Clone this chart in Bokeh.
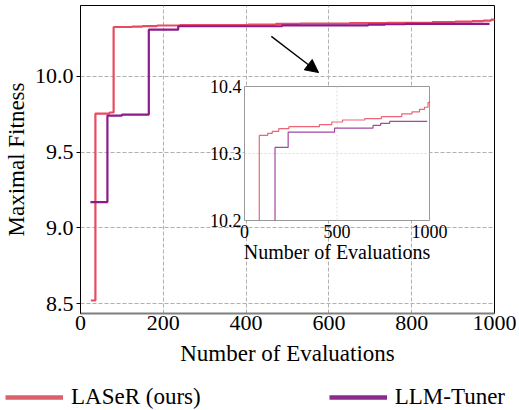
from bokeh.plotting import figure
from bokeh.layouts import column, row
from bokeh.models import (Range1d, LinearAxis, FixedTicker, PrintfTickFormatter,
                          Legend, LegendItem, Arrow, NormalHead)
from bokeh.embed import file_html
from bokeh.resources import INLINE

FONT = "Liberation Serif"

# ---- data ----
laser_x = [25, 36, 70, 80, 125, 150, 185, 240, 405, 472, 530, 650, 740, 850, 905, 946, 973, 992, 1000]
laser_y = [8.52, 9.755, 9.762, 10.327, 10.330, 10.333, 10.337, 10.340, 10.343, 10.347,
           10.350, 10.352, 10.355, 10.359, 10.362, 10.366, 10.369, 10.376, 10.378]
tuner_x = [24, 65, 100, 165, 236, 487, 695, 736, 785, 988]
tuner_y = [9.17, 9.742, 9.748, 10.309, 10.332, 10.338, 10.342, 10.345, 10.348, 10.348]

series_names = ["LASeR (ours)", "LLM-Tuner"]
x_ticks = [0, 200, 400, 600, 800, 1000]
y_ticks = [8.5, 9.0, 9.5, 10.0]
inset_x_ticks = [0, 500, 1000]
inset_y_ticks = [10.2, 10.3, 10.4]

RED = "#e84a5f"
PURPLE = "#8b1a8b"
LEG_RED = "#dc5f6c"
LEG_PURPLE = "#8a2a8c"

# ---- layout geometry (pixels) ----
FW, FH = 414, 308
INS_L, INS_R, INS_T, INS_B = 164, 349, 81, 215   # inset box inside frame (from frame top-left)
ix0, ix1 = inset_x_ticks[0], inset_x_ticks[-1]
iy0, iy1 = inset_y_ticks[0], inset_y_ticks[-1]
xpp = (ix1 - ix0) / (INS_R - INS_L)
ypp = (iy1 - iy0) / (INS_B - INS_T)
ix_range = Range1d(ix0 - INS_L * xpp, ix1 + (FW - INS_R) * xpp)
iy_range = Range1d(iy0 - (FH - INS_B) * ypp, iy1 + INS_T * ypp)

p = figure(frame_width=FW, frame_height=FH,
           x_range=Range1d(0, 1000), y_range=Range1d(8.434, 10.469),
           output_backend="svg", toolbar_location=None,
           min_border_left=79, min_border_right=26, min_border_top=5, min_border_bottom=66)
p.extra_x_ranges = {"ix": ix_range}
p.extra_y_ranges = {"iy": iy_range}

p.outline_line_color = "black"
p.outline_line_width = 1
p.background_fill_color = "white"

mx = p.below[0]
my = p.left[0]
mx.ticker = FixedTicker(ticks=x_ticks)
my.ticker = FixedTicker(ticks=y_ticks)
my.formatter = PrintfTickFormatter(format="%.1f")
for ax in (mx, my):
    ax.major_label_text_font = FONT
    ax.major_label_text_font_size = "22px"
    ax.major_label_text_color = "black"
    ax.axis_label_text_font = FONT
    ax.axis_label_text_font_size = "23px"
    ax.axis_label_text_font_style = "normal"
    ax.axis_label_text_color = "black"
    ax.minor_tick_line_color = None
    ax.major_tick_in = 0
mx.axis_label = "Number of Evaluations"
my.axis_label = "Maximal Fitness"
mx.axis_line_color = "#7f7f7f"
mx.axis_line_width = 2
mx.major_tick_out = 0
mx.major_label_standoff = 2
mx.axis_label_standoff = 8
my.axis_line_color = "black"
my.major_tick_out = 4
my.major_tick_line_color = "black"
my.major_label_standoff = 3
my.axis_label_standoff = 3

for g in (p.xgrid[0], p.ygrid[0]):
    g.grid_line_color = "#b0b0b0"
    g.grid_line_dash = "4 2"
    g.grid_line_width = 1

# main curves
p.step(laser_x, laser_y, mode="after", line_color=RED, line_width=2.2)
p.step(tuner_x, tuner_y, mode="after", line_color=PURPLE, line_width=2.2)

# ---- inset ----
p.quad(left=[ix0], right=[ix1], bottom=[iy0], top=[iy1],
       x_range_name="ix", y_range_name="iy",
       fill_color="white", line_color="#999999", line_width=1)
p.segment(x0=inset_x_ticks[1:-1], y0=[iy0] * (len(inset_x_ticks) - 2),
          x1=inset_x_ticks[1:-1], y1=[iy1] * (len(inset_x_ticks) - 2),
          x_range_name="ix", y_range_name="iy",
          line_color="#d0d0d0", line_width=0.8, line_dash="2 2")
p.segment(x0=[ix0] * (len(inset_y_ticks) - 2), y0=inset_y_ticks[1:-1],
          x1=[ix1] * (len(inset_y_ticks) - 2), y1=inset_y_ticks[1:-1],
          x_range_name="ix", y_range_name="iy",
          line_color="#d0d0d0", line_width=0.8, line_dash="2 2")


def clip_to_inset(xs, ys):
    idx = [i for i, v in enumerate(ys) if v >= iy0]
    first = idx[0]
    return [xs[first]] + [xs[i] for i in idx], [iy0] + [ys[i] for i in idx]


lx, ly = clip_to_inset(laser_x, laser_y)
tx, ty = clip_to_inset(tuner_x, tuner_y)
p.step(lx, ly, mode="after", line_color=RED, line_alpha=0.85, line_width=1.2,
       x_range_name="ix", y_range_name="iy")
p.step(tx, ty, mode="after", line_color=PURPLE, line_alpha=0.8, line_width=1.2,
       x_range_name="ix", y_range_name="iy")

iax_b = LinearAxis(x_range_name="ix", y_range_name="iy", fixed_location=iy0,
                   bounds=(ix0, ix1), ticker=FixedTicker(ticks=inset_x_ticks),
                   axis_label="Number of Evaluations")
iax_l = LinearAxis(x_range_name="ix", y_range_name="iy", fixed_location=ix0,
                   bounds=(iy0, iy1), ticker=FixedTicker(ticks=inset_y_ticks),
                   formatter=PrintfTickFormatter(format="%.1f"))
for ax in (iax_b, iax_l):
    ax.axis_line_color = None
    ax.major_tick_line_color = None
    ax.minor_tick_line_color = None
    ax.major_tick_out = 0
    ax.major_tick_in = 0
    ax.major_label_text_font = FONT
    ax.major_label_text_font_size = "18px"
    ax.major_label_text_color = "black"
    ax.axis_label_text_font = FONT
    ax.axis_label_text_font_size = "20px"
    ax.axis_label_text_font_style = "normal"
    ax.axis_label_text_color = "black"
iax_b.major_label_standoff = 4
iax_l.major_label_standoff = 3
iax_b.axis_label_standoff = 0
p.add_layout(iax_b, "below")
p.add_layout(iax_l, "left")

# arrow pointing at inset
p.add_layout(Arrow(end=NormalHead(size=13, fill_color="black", line_color="black"),
                   x_start=461, y_start=10.265, x_end=575, y_end=10.026,
                   line_color="black", line_width=1.3))

# ---- legend strip below the plot ----
lg = figure(frame_width=519, frame_height=31, x_range=Range1d(0, 1), y_range=Range1d(0, 1),
            x_axis_location=None, y_axis_location=None,
            output_backend="svg", toolbar_location=None,
            min_border_left=0, min_border_right=0, min_border_top=0, min_border_bottom=0)
lg.grid.visible = False
lg.outline_line_color = None
# series drawn outside the strip's visible range: only their legend glyphs show
lr1 = lg.line(laser_x, laser_y, line_color=LEG_RED, line_width=4.5)
lr2 = lg.line(tuner_x, tuner_y, line_color=LEG_PURPLE, line_width=4.5)
legend = Legend(items=[LegendItem(label=series_names[0], renderers=[lr1]),
                       LegendItem(label=series_names[1], renderers=[lr2])],
                orientation="horizontal", location=(5, 0),
                glyph_width=58, glyph_height=20, label_standoff=8, spacing=128,
                padding=0, margin=0, border_line_color=None, background_fill_alpha=0,
                label_text_font=FONT, label_text_font_size="23px", label_text_color="black")
lg.add_layout(legend)

layout = column(p, row(lg, spacing=0), spacing=0)
open("out.html", "w").write(file_html(layout, INLINE))
